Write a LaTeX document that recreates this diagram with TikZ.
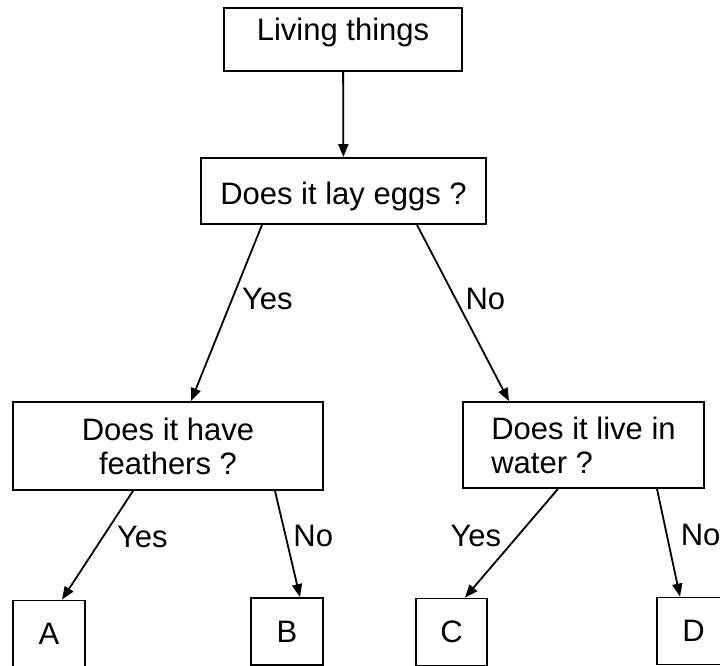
\documentclass[tikz,border=0pt]{standalone}
\usepackage{fontspec}
\setmainfont{Liberation Sans}
\usetikzlibrary{arrows.meta}
\tikzset{%
  keybox/.style = {shape=rectangle, draw, line width=1.8pt, align=center,%
                   inner xsep=0pt, inner ysep=0pt},%
  leaf/.style   = {keybox, minimum width=72pt, minimum height=67pt},%
  branch/.style = {line width=1.8pt, -{Triangle[length=13pt,width=10pt]}},%
  answer/.style = {inner sep=9pt}%
}
\begin{document}
\begin{tikzpicture}[x=1pt, y=-1pt, every node/.style = {font=\fontsize{31}{34}\selectfont}]
  \useasboundingbox (0,0) rectangle (720,666);
  % questions
  \node[keybox, minimum width=238pt, text height=33pt, text depth=30pt] (living) at (343,39.5) {Living things};
  \node[keybox, minimum width=285pt, text height=46pt, text depth=20pt] (eggs) at (343.5,191) {Does it lay eggs ?};
  \node[keybox, minimum width=310pt, minimum height=88pt] (feathers) at (168,446) {Does it have\\ feathers ?};
  \node[keybox, minimum width=241pt, minimum height=86pt, align=left] (water) at (583.5,445) {Does it live in\\water ?};
  % answers
  \node[leaf] (a) at (49,634) {A};
  \node[leaf] (b) at (287,631.5) {B};
  \node[leaf, minimum width=71pt] (c) at (451.5,632) {C};
  \node[leaf, minimum width=73pt] (d) at (693.5,631) {D};
  % branches
  \draw[branch] (living) -- (eggs);
  \draw[branch] ([xshift=-81.5pt]eggs.south) -- node[right, answer, pos=.42] {Yes} ([xshift=23pt]feathers.north);
  \draw[branch] ([xshift=73.5pt]eggs.south) -- node[right, answer, pos=.42] {No} ([xshift=-74.5pt]water.north);
  \draw[branch] ([xshift=-35pt]feathers.south) -- node[right, answer, inner sep=13pt, pos=.42] {Yes} ([xshift=13pt]a.north);
  \draw[branch] ([xshift=107pt]feathers.south) -- node[right, answer, inner sep=7pt, pos=.42] {No} ([xshift=13pt]b.north);
  \draw[branch] ([xshift=-25.5pt]water.south) -- node[left, answer, inner sep=16pt, pos=.43] {Yes} ([xshift=13.5pt]c.north);
  \draw[branch] ([xshift=73.5pt]water.south) -- node[right, answer, inner sep=13pt, pos=.43] {No} ([xshift=-13.5pt]d.north);
\end{tikzpicture}
\end{document}
